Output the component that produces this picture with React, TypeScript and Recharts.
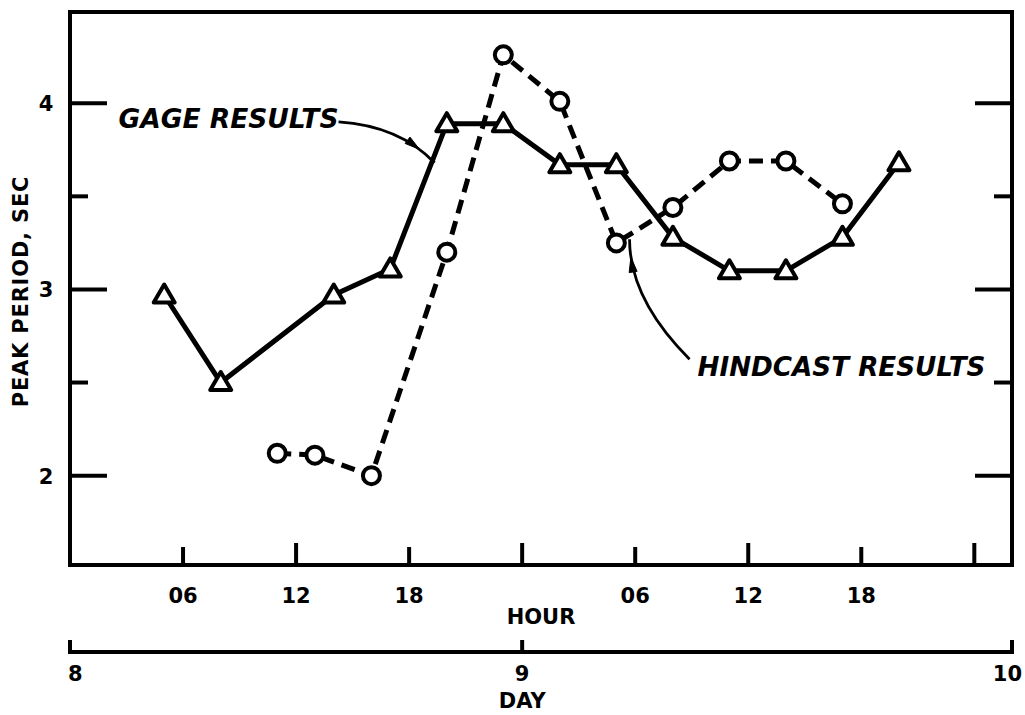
import React from 'react';
import { LineChart, Line, XAxis, YAxis, ReferenceArea, ReferenceDot } from 'recharts';

// ---------------- data ----------------
const gageHours = [5, 8, 14, 17, 20, 23, 26, 29, 32, 35, 38, 41, 44];
const gagePeriods = [2.97, 2.5, 2.97, 3.11, 3.89, 3.89, 3.67, 3.67, 3.28, 3.1, 3.1, 3.28, 3.68];

const hindcastHours = [11, 13, 16, 20, 23, 26, 29, 32, 35, 38, 41];
const hindcastPeriods = [2.12, 2.11, 2.0, 3.2, 4.26, 4.01, 3.25, 3.44, 3.69, 3.69, 3.46];

const hourTicks = [6, 12, 18, 24, 30, 36, 42, 48];
const hourTickLabels = ['06', '12', '18', '', '06', '12', '18', ''];
const dayTickHours = [0, 24, 50];
const dayTickLabels = ['8', '9', '10'];
const periodTicks = [2, 2.5, 3, 3.5, 4];
const periodTickLabels = ['2', '', '3', '', '4'];

const xDomain: [number, number] = [0, 50];
const yDomain: [number, number] = [1.52, 4.49];

const gageLabel = { text: 'GAGE RESULTS', h: 19.35, v: 3.68 };
const hindcastLabel = { text: 'HINDCAST RESULTS', h: 29.7, v: 3.27 };

const gageData = gageHours.map((h, i) => ({ h, v: gagePeriods[i] }));
const hindcastData = hindcastHours.map((h, i) => ({ h, v: hindcastPeriods[i] }));

// ---------------- styles ----------------
const FONT = '"DejaVu Sans", "Liberation Sans", Arial, sans-serif';
const INK = '#000';
const AXIS_FONT = 21;
const DAY_AXIS_GAP = 87;

const axisText = {
  fontFamily: FONT,
  fontWeight: 700,
  fontSize: AXIS_FONT,
  fill: INK,
  letterSpacing: 0,
} as const;

// ---------------- tick renderers ----------------
const HourTickBottom = (props: any) => {
  const { x, y, payload, index } = props;
  const long = payload.value % 12 === 0;
  const label = hourTickLabels[index] ?? '';
  return (
    <g>
      <line x1={x} y1={y} x2={x} y2={y - (long ? 22 : 18)} stroke={INK} strokeWidth={4} />
      {label ? (
        <text x={x} y={y + 38} textAnchor="middle" {...axisText}>
          {label}
        </text>
      ) : null}
    </g>
  );
};

const HourTickTop = (props: any) => {
  const { x, y, payload } = props;
  const long = payload.value % 12 === 0;
  return <line x1={x} y1={y} x2={x} y2={y + (long ? 37 : 18)} stroke={INK} strokeWidth={4} />;
};

const PeriodTickLeft = (props: any) => {
  const { x, y, payload, index } = props;
  const long = Number.isInteger(payload.value);
  const label = periodTickLabels[index] ?? '';
  return (
    <g>
      <line x1={x} y1={y} x2={x + (long ? 37 : 18)} y2={y} stroke={INK} strokeWidth={4} />
      {label ? (
        <text x={x - 24} y={y + 8} textAnchor="middle" {...axisText}>
          {label}
        </text>
      ) : null}
    </g>
  );
};

const PeriodTickRight = (props: any) => {
  const { x, y, payload } = props;
  const long = Number.isInteger(payload.value);
  return <line x1={x} y1={y} x2={x - (long ? 37 : 18)} y2={y} stroke={INK} strokeWidth={4} />;
};

// Hour-axis title plus the secondary DAY axis drawn beneath it, placed within the hour axis box.
const HourAndDayTitles = (p: any) => {
  const vb = p.viewBox || {};
  const left = vb.x;
  const width = vb.width;
  const toX = (h: number) => left + ((h - xDomain[0]) / (xDomain[1] - xDomain[0])) * width;
  const dayY = vb.y + DAY_AXIS_GAP;
  const last = dayTickHours.length - 1;
  return (
    <g>
      <text x={left + width / 2} y={vb.y + 59} textAnchor="middle" {...axisText}>
        HOUR
      </text>
      <line x1={left} y1={dayY} x2={left + width} y2={dayY} stroke={INK} strokeWidth={4} />
      {dayTickHours.map((h, i) => {
        const x = toX(h);
        const anchor = i === 0 ? 'start' : i === last ? 'end' : 'middle';
        const tx = i === 0 ? x - 2 : i === last ? x + 10 : x;
        return (
          <g key={`d${i}`}>
            <line x1={x} y1={dayY + 2} x2={x} y2={dayY - 12} stroke={INK} strokeWidth={4} />
            <text x={tx} y={dayY + 29} textAnchor={anchor} {...axisText}>
              {dayTickLabels[i]}
            </text>
          </g>
        );
      })}
      <text x={toX(dayTickHours[1])} y={dayY + 56} textAnchor="middle" {...axisText}>
        DAY
      </text>
    </g>
  );
};

// ---------------- markers ----------------
const TriangleDot = (props: any) => {
  const { cx, cy, index } = props;
  if (cx == null || cy == null) return <g key={`t${index}`} />;
  const s = 10.5;
  return (
    <path
      key={`t${index}`}
      d={`M${cx},${cy - s} L${cx + s},${cy + 7.5} L${cx - s},${cy + 7.5} Z`}
      fill="#fff"
      stroke={INK}
      strokeWidth={4}
      strokeLinejoin="round"
    />
  );
};

const CircleDot = (props: any) => {
  const { cx, cy, index } = props;
  if (cx == null || cy == null) return <g key={`c${index}`} />;
  return <circle key={`c${index}`} cx={cx} cy={cy} r={8.5} fill="#fff" stroke={INK} strokeWidth={4} />;
};

// ---------------- annotations ----------------
type Pt = [number, number];
const quadAt = (p0: Pt, c: Pt, p1: Pt, t: number): Pt => {
  const a = (1 - t) * (1 - t);
  const b = 2 * t * (1 - t);
  const d = t * t;
  return [a * p0[0] + b * c[0] + d * p1[0], a * p0[1] + b * c[1] + d * p1[1]];
};
const quadTangent = (p0: Pt, c: Pt, p1: Pt, t: number): Pt => {
  const x = 2 * (1 - t) * (c[0] - p0[0]) + 2 * t * (p1[0] - c[0]);
  const y = 2 * (1 - t) * (c[1] - p0[1]) + 2 * t * (p1[1] - c[1]);
  const l = Math.hypot(x, y) || 1;
  return [x / l, y / l];
};

const Annotation = (props: any) => {
  const { cx, cy, text, textDx, textDy, anchor, start, ctrl, t, size } = props;
  if (cx == null || cy == null) return <g />;
  const p0: Pt = [cx + start[0], cy + start[1]];
  const c: Pt = [cx + ctrl[0], cy + ctrl[1]];
  const p1: Pt = [cx, cy];
  const tip = quadAt(p0, c, p1, t);
  const dir = quadTangent(p0, c, p1, t);
  const len = 15;
  const hw = 4;
  const base: Pt = [tip[0] - dir[0] * len, tip[1] - dir[1] * len];
  const perp: Pt = [-dir[1], dir[0]];
  const head = `${tip[0]},${tip[1]} ${base[0] + perp[0] * hw},${base[1] + perp[1] * hw} ${base[0] - perp[0] * hw},${base[1] - perp[1] * hw}`;
  return (
    <g>
      <path d={`M${p0[0]},${p0[1]} Q${c[0]},${c[1]} ${p1[0]},${p1[1]}`} fill="none" stroke={INK} strokeWidth={2.8} />
      <polygon points={head} fill={INK} stroke={INK} strokeWidth={1} strokeLinejoin="round" />
      <text
        x={cx + textDx}
        y={cy + textDy}
        textAnchor={anchor}
        fontFamily={FONT}
        fontWeight={700}
        fontStyle="italic"
        fontSize={size}
        fill={INK}
      >
        {text}
      </text>
    </g>
  );
};

// ---------------- chart ----------------
export default function App() {
  return (
    <div style={{ position: 'absolute', left: 0, top: 0, width: 1025, height: 715, background: '#fff' }}>
      <LineChart width={1025} height={715} margin={{ top: 11, right: 12, left: 69, bottom: 63 }}>
        <XAxis
          xAxisId="hour"
          type="number"
          dataKey="h"
          domain={xDomain}
          allowDataOverflow
          ticks={hourTicks}
          interval={0}
          orientation="bottom"
          height={87}
          axisLine={false}
          tickLine={false}
          tickSize={0}
          tickMargin={0}
          tick={HourTickBottom}
          label={HourAndDayTitles}
        />
        <XAxis
          xAxisId="top"
          type="number"
          domain={xDomain}
          allowDataOverflow
          ticks={hourTicks}
          interval={0}
          orientation="top"
          height={1}
          axisLine={false}
          tickLine={false}
          tickSize={0}
          tickMargin={0}
          tick={HourTickTop}
        />
        <YAxis
          yAxisId="left"
          type="number"
          domain={yDomain}
          allowDataOverflow
          ticks={periodTicks}
          interval={0}
          orientation="left"
          width={1}
          axisLine={false}
          tickLine={false}
          tickSize={0}
          tickMargin={0}
          tick={PeriodTickLeft}
          label={(p: any) => {
            const vb = p.viewBox || {};
            const x = vb.x - 41;
            const y = vb.y + vb.height / 2 + 3;
            return (
              <text
                x={x}
                y={y}
                transform={`rotate(-90, ${x}, ${y})`}
                textAnchor="middle"
                {...axisText}
                fontSize={21}
                letterSpacing={0.8}
              >
                PEAK PERIOD, SEC
              </text>
            );
          }}
        />
        <YAxis
          yAxisId="right"
          type="number"
          domain={yDomain}
          allowDataOverflow
          ticks={periodTicks}
          interval={0}
          orientation="right"
          width={1}
          axisLine={false}
          tickLine={false}
          tickSize={0}
          tickMargin={0}
          tick={PeriodTickRight}
        />

        <ReferenceArea
          xAxisId="hour"
          yAxisId="left"
          x1={xDomain[0]}
          x2={xDomain[1]}
          y1={yDomain[0]}
          y2={yDomain[1]}
          fill="none"
          fillOpacity={0}
          stroke={INK}
          strokeWidth={4}
          ifOverflow="visible"
        />

        <Line
          xAxisId="hour"
          yAxisId="left"
          data={gageData}
          dataKey="v"
          type="linear"
          stroke={INK}
          strokeWidth={5}
          dot={TriangleDot}
          activeDot={false}
          isAnimationActive={false}
        />
        <Line
          xAxisId="hour"
          yAxisId="left"
          data={hindcastData}
          dataKey="v"
          type="linear"
          stroke={INK}
          strokeWidth={5}
          strokeDasharray="14 8"
          dot={CircleDot}
          activeDot={false}
          isAnimationActive={false}
        />

        <ReferenceDot
          xAxisId="hour"
          yAxisId="left"
          x={gageLabel.h}
          y={gageLabel.v}
          r={0}
          ifOverflow="visible"
          shape={(p: any) => (
            <Annotation
              cx={p.cx}
              cy={p.cy}
              text={gageLabel.text}
              textDx={-96}
              textDy={-35}
              anchor="end"
              start={[-96, -41]}
              ctrl={[-35, -37]}
              t={0.8}
              size={26.5}
            />
          )}
        />
        <ReferenceDot
          xAxisId="hour"
          yAxisId="left"
          x={hindcastLabel.h}
          y={hindcastLabel.v}
          r={0}
          ifOverflow="visible"
          shape={(p: any) => (
            <Annotation
              cx={p.cx}
              cy={p.cy}
              text={hindcastLabel.text}
              textDx={68}
              textDy={137}
              anchor="start"
              start={[60, 120]}
              ctrl={[0, 60]}
              t={0.85}
              size={26.2}
            />
          )}
        />
      </LineChart>
    </div>
  );
}
